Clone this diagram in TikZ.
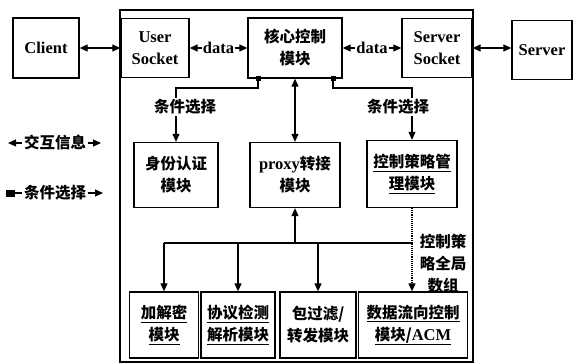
\documentclass[tikz,border=0pt]{standalone}
\usepackage{fontspec}
\setmainfont{Liberation Serif}
\newfontfamily\cjk{Noto Sans CJK SC}
\usetikzlibrary{arrows.meta, calc, positioning}

\newcommand{\zh}{\cjk\bfseries\fontsize{15.5}{22}\selectfont}
\newcommand{\en}{\rmfamily\bfseries\fontsize{16.5}{22}\selectfont}

\tikzset{
  mod/.style={draw, line width=1.3pt, align=center, inner sep=0pt, font=\zh},
  sq/.style={fill, minimum size=5pt, inner sep=0pt},
  tag/.style={fill=white, inner sep=1pt, font=\zh},
}

\begin{document}
\begin{tikzpicture}[x=1pt, y=-1pt, >={Triangle[length=8pt,width=7pt]}, line width=1.1pt]
        \useasboundingbox (0,0) rectangle (574,364);

        % Frame
        \draw[line width=1.1pt] (120,10) rectangle (473,362);

        % Top row
        \node[mod, minimum width=66pt, minimum height=60pt, font=\en] (client) at (46,48) {Client};
        \node[mod, minimum width=68pt, minimum height=59pt, font=\en] (usock) at (155,48) {User\\Socket};
        \node[mod, minimum width=94pt, minimum height=60pt] (core) at (295,48) {核心控制\\模块};
        \node[mod, minimum width=70pt, minimum height=59pt, font=\en] (ssock) at (437,48) {Server\\Socket};
        \node[mod, minimum width=60pt, minimum height=59pt, font=\en] (server) at (542,50) {Server};

        \draw[<->] (client) -- (usock);
        \draw[<->] (ssock.east) -- (ssock.east -| server.west);
        \draw[<->] (usock) -- node[fill=white, inner sep=1pt, font=\en] {data} (core);
        \draw[<->] (core) -- node[fill=white, inner sep=1pt, font=\en] {data} (ssock);

        % Middle row
        \node[mod, minimum width=84pt, minimum height=65pt] (auth) at (176,175) {身份认证\\模块};
        \node[mod, minimum width=90pt, minimum height=65pt] (proxy) at (295,175) {{\en proxy}转接\\模块};
        \node[mod, minimum width=90pt, minimum height=67pt] (policy) at (412,174) {\underline{控制策略管}\\\underline{理模块}};

        \node[sq] (sqL) at (258,78) {};
        \node[sq] (sqR) at (333,78) {};
        \draw[->] (sqL.center) -- ++(0,10) -| (auth.north);
        \draw[->] (sqR.center) -- ++(0,10) -| (policy.north);
        \node[tag] (condL) at (185,107) {条件选择};
        \node[tag] (condR) at (398,107) {条件选择};
        \draw[<->] (core) -- (proxy);

        % Bottom row
        \node[mod, minimum width=69pt, minimum height=66pt] (crypt) at (164,325) {\underline{加解密}\\\underline{模块}};
        \node[mod, minimum width=74pt, minimum height=66pt] (proto) at (238,325) {\underline{协议检测}\\\underline{解析模块}};
        \node[mod, minimum width=76pt, minimum height=66pt] (filt) at (318,325) {包过滤/\\转发模块};
        \node[mod, minimum width=109pt, minimum height=66pt] (flow) at (413,325) {\underline{数据流向控制}\\\underline{模块/{\en ACM}}};

        \coordinate (hub) at (295,243);
        \draw[->] (hub) -- (proxy.south);
        \draw (crypt.north |- hub) -- (flow.north |- hub);
        \foreach \m in {crypt, proto, filt}
            \draw[->] (\m.north |- hub) -- (\m.north);
        \draw[->, densely dotted] (policy.south) -- (flow.north -| policy.south);
        \node[align=center, font=\zh, inner sep=0pt] (glob) at (443,264) {控制策\\略全局\\数组};

        % Legend
        \node[font=\zh, inner sep=1pt] (legA) at (55,143) {交互信息};
        \coordinate (legAl) at (8,143);
        \coordinate (legAr) at (101,143);
        \draw[->] (legA.west) -- (legAl);
        \draw[->] (legA.east) -- (legAr);
        \node[font=\zh, inner sep=1pt] (legB) at (55,193) {条件选择};
        \node[sq, minimum width=9pt, minimum height=7pt] (legsq) at (10,193) {};
        \coordinate (legBr) at (103,193);
        \draw (legsq) -- (legB.west);
        \draw[->] (legB.east) -- (legBr);
\end{tikzpicture}
\end{document}
